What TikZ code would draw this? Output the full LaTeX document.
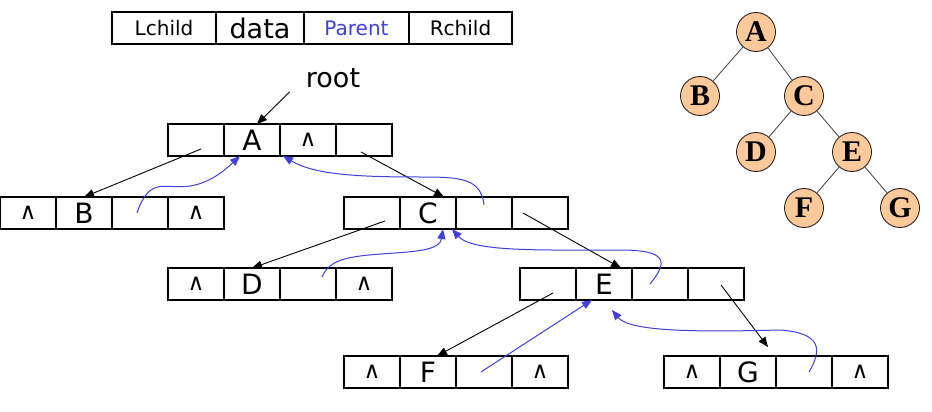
\documentclass[tikz,border=0pt]{standalone}
\usepackage{fontspec}
\setmainfont{DejaVu Sans}
\newfontfamily\treefont{Liberation Serif}
\definecolor{ptrblue}{HTML}{3F3FD9}
\definecolor{treefill}{HTML}{FBC99A}
\usetikzlibrary{arrows.meta,positioning}

\begin{document}
\begin{tikzpicture}[
    x=1pt, y=-1pt,
    cell/.style={draw, line width=1.2pt, minimum width=56pt, minimum height=32pt,
                 inner sep=0pt, outer sep=0pt, font=\fontsize{28}{28}\selectfont},
    nil/.style={cell, font=\fontsize{23}{23}\selectfont},
    head/.style={draw, line width=1.2pt, minimum height=32pt, inner sep=0pt,
                 outer sep=0pt, font=\fontsize{20}{20}\selectfont},
    tnode/.style={circle, draw=black!85, line width=0.9pt, fill=treefill, minimum size=39pt,
                  inner sep=0pt, font=\treefont\bfseries\fontsize{30}{30}\selectfont},
    edge/.style={draw=black!75, line width=0.8pt},
    link/.style={-{Triangle[length=10pt,width=8pt]}, line width=0.9pt},
    up/.style={-{Triangle[length=10pt,width=8pt]}, line width=1pt, ptrblue}
]
\useasboundingbox (0,0) rectangle (932,412);

% ── Node layout (header) ──
\node[head, minimum width=104pt] (lchild) at (164,28) {Lchild};
\node[head, minimum width=88pt, right=0pt of lchild, font=\fontsize{27}{27}\selectfont] (data) {data};
\node[head, minimum width=105pt, right=0pt of data, text=ptrblue] (parent) {Parent};
\node[head, minimum width=103pt, right=0pt of parent] (rchild) {Rchild};

\node[inner sep=0pt, font=\fontsize{27}{27}\selectfont] (root) at (333,78) {root};

% ── Records ──
\node[cell] (a1) at (196,140) {};
\node[cell, right=0pt of a1] (a2) {A};
\node[nil, right=0pt of a2] (a3) {∧};
\node[cell, right=0pt of a3] (a4) {};

\node[nil] (b1) at (28,213) {∧};
\node[cell, right=0pt of b1] (b2) {B};
\node[cell, right=0pt of b2] (b3) {};
\node[nil, right=0pt of b3] (b4) {∧};

\node[cell] (c1) at (372,213) {};
\node[cell, right=0pt of c1] (c2) {C};
\node[cell, right=0pt of c2] (c3) {};
\node[cell, right=0pt of c3] (c4) {};

\node[nil] (d1) at (196,284) {∧};
\node[cell, right=0pt of d1] (d2) {D};
\node[cell, right=0pt of d2] (d3) {};
\node[nil, right=0pt of d3] (d4) {∧};

\node[cell] (e1) at (548,284) {};
\node[cell, right=0pt of e1] (e2) {E};
\node[cell, right=0pt of e2] (e3) {};
\node[cell, right=0pt of e3] (e4) {};

\node[nil] (f1) at (372,372) {∧};
\node[cell, right=0pt of f1] (f2) {F};
\node[cell, right=0pt of f2] (f3) {};
\node[nil, right=0pt of f3] (f4) {∧};

\node[nil] (g1) at (692,372) {∧};
\node[cell, right=0pt of g1] (g2) {G};
\node[cell, right=0pt of g2] (g3) {};
\node[nil, right=0pt of g3] (g4) {∧};

% ── Child links ──
\draw[link] ([xshift=-16pt,yshift=-4pt]root.south west) -- ([xshift=5pt]a2.north);
\draw[link] ([xshift=5pt,yshift=-9pt]a1.center) -- (b2.north);
\draw[link] ([xshift=-3pt,yshift=-12pt]a4.center) -- ([xshift=16pt]c2.north);
\draw[link] ([xshift=13pt,yshift=-8pt]c1.center) -- (d2.north);
\draw[link] ([xshift=-17pt]c4.center) -- ([xshift=17pt]e2.north);
\draw[link] ([xshift=5pt,yshift=-9pt]e1.center) -- ([xshift=9pt]f2.north);
\draw[link] ([xshift=5pt,yshift=-1pt]e4.center) -- ([xshift=-8pt,yshift=9pt]g3.north west);

% ── Parent links ──
\draw[up] ([xshift=-3pt]b3.center) .. controls (150,175) and (165,190) .. (190,186)
    .. controls (210,183) and (225,170) .. ([xshift=-12pt]a2.south);
\draw[up] ([yshift=8pt]c3.center) .. controls (481,178) and (460,177) .. (420,177)
    .. controls (360,177) and (315,175) .. ([xshift=3pt]a3.south west);
\draw[up] ([xshift=14pt,yshift=7pt]d3.center) .. controls (330,258) and (350,256) .. (395,253)
    .. controls (425,251) and (440,248) .. ([xshift=15pt]c2.south);
\draw[up] ([xshift=-10pt]e3.center) .. controls (668,262) and (668,250) .. (620,250)
    .. controls (540,250) and (472,252) .. ([xshift=-4pt]c2.south east);
\draw[up] ([xshift=-3pt]f3.center) -- ([xshift=-12pt]e2.south);
\draw[up] ([xshift=5pt]g3.center) .. controls (822,350) and (822,333) .. (780,330)
    .. controls (700,332) and (630,332) .. ([xshift=8pt,yshift=-10pt]e2.south);

% ── Binary tree ──
\node[tnode] (ta) at (756,32) {A};
\node[tnode] (tb) at (700,96) {B};
\node[tnode] (tc) at (804,96) {C};
\node[tnode] (td) at (756,152) {D};
\node[tnode] (te) at (852,152) {E};
\node[tnode] (tf) at (804,208) {F};
\node[tnode] (tg) at (900,208) {G};

\draw[edge] (ta) -- (tb);
\draw[edge] (ta) -- (tc);
\draw[edge] (tc) -- (td);
\draw[edge] (tc) -- (te);
\draw[edge] (te) -- (tf);
\draw[edge] (te) -- (tg);

\end{tikzpicture}
\end{document}
